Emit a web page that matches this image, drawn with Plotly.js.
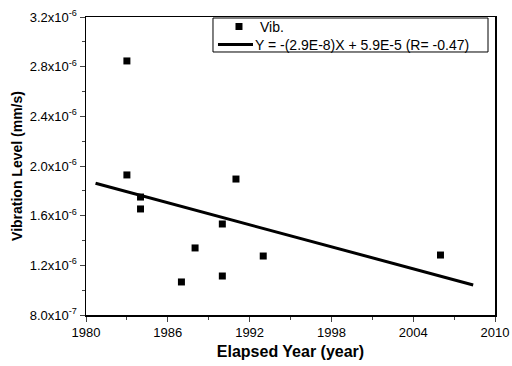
<!DOCTYPE html>
<html><head><meta charset="utf-8">
<script src="https://cdn.plot.ly/plotly-3.0.1.min.js"></script>
<style>html,body{margin:0;padding:0;background:#fff}#chart{width:512px;height:366px}</style>
</head><body><div id="chart"></div>
<script>
var years = [1983, 1983, 1984, 1984, 1987, 1988, 1990, 1990, 1991, 1993, 2006];
var vib = [2.846e-6, 1.928e-6, 1.750e-6, 1.654e-6, 1.066e-6, 1.340e-6, 1.533e-6, 1.114e-6, 1.895e-6, 1.275e-6, 1.283e-6];
var fitX = [1980.7, 2008.4];
var fitY = [1.861e-6, 1.042e-6];
var xTickVals = [1980, 1986, 1992, 1998, 2004, 2010];
var yTickVals = [8.0e-7, 1.2e-6, 1.6e-6, 2.0e-6, 2.4e-6, 2.8e-6, 3.2e-6];
var yTickText = ['8.0x10<sup>-7</sup>', '1.2x10<sup>-6</sup>', '1.6x10<sup>-6</sup>', '2.0x10<sup>-6</sup>', '2.4x10<sup>-6</sup>', '2.8x10<sup>-6</sup>', '3.2x10<sup>-6</sup>'];
var seriesLabel = 'Vib.';
var fitLabel = 'Y = -(2.9E-8)X + 5.9E-5 (R= -0.47)';

var traces = [
  {x: years, y: vib, type: 'scatter', mode: 'markers', name: seriesLabel,
   marker: {symbol: 'square', size: 7, color: '#000'}},
  {x: fitX, y: fitY, type: 'scatter', mode: 'lines', name: fitLabel,
   line: {color: '#000', width: 3}}
];
var font = {family: 'Liberation Sans, Arial, sans-serif', color: '#000', size: 13};
// compact legend drawn in paper coordinates
var legendShapes = [
  {type: 'rect', xref: 'paper', yref: 'paper', x0: 0.3105, x1: 0.9829, y0: 0.8826, y1: 0.9966,
   line: {color: '#000', width: 1}, fillcolor: '#fff', layer: 'above'},
  {type: 'rect', xref: 'paper', yref: 'paper', x0: 0.3655, x1: 0.3826, y0: 0.9564, y1: 0.9799,
   line: {width: 0}, fillcolor: '#000', layer: 'above'},
  {type: 'line', xref: 'paper', yref: 'paper', x0: 0.3227, x1: 0.4083, y0: 0.9077, y1: 0.9077,
   line: {color: '#000', width: 3}, layer: 'above'}
];
var legendTexts = [
  {xref: 'paper', yref: 'paper', x: 0.4230, y: 0.9681, xanchor: 'left', yanchor: 'middle', showarrow: false,
   borderpad: 0, text: seriesLabel, font: {size: 14}},
  {xref: 'paper', yref: 'paper', x: 0.4110, y: 0.9077, xanchor: 'left', yanchor: 'middle', showarrow: false,
   borderpad: 0, text: fitLabel, font: {size: 14}}
];
var layout = {
  width: 512, height: 366,
  margin: {l: 86, r: 17, t: 17, b: 51},
  paper_bgcolor: '#fff', plot_bgcolor: '#fff',
  font: font,
  showlegend: false,
  shapes: legendShapes,
  annotations: legendTexts,
  xaxis: {range: [1980, 2010], tickvals: xTickVals, ticks: 'outside', ticklen: 5, tickwidth: 1,
          showline: true, linecolor: '#000', linewidth: 1.5, mirror: true, showgrid: false, zeroline: false,
          minor: {dtick: 3, tick0: 1980, ticks: 'outside', ticklen: 3, showgrid: false},
          tickfont: {size: 13}, title: {text: '<b>Elapsed Year (year)</b>', font: {size: 16}, standoff: 6}},
  yaxis: {range: [8.0e-7, 3.2e-6], tickvals: yTickVals, ticktext: yTickText, ticks: 'outside', ticklen: 5, tickwidth: 1,
          showline: true, linecolor: '#000', linewidth: 1.5, mirror: true, showgrid: false, zeroline: false,
          minor: {dtick: 2e-7, tick0: 8e-7, ticks: 'outside', ticklen: 3, showgrid: false},
          tickfont: {size: 13}, title: {text: '<b>Vibration Level (mm/s)</b>', font: {size: 14}, standoff: 4}}
};
Plotly.newPlot('chart', traces, layout, {displayModeBar: false, staticPlot: true});
</script></body></html>
